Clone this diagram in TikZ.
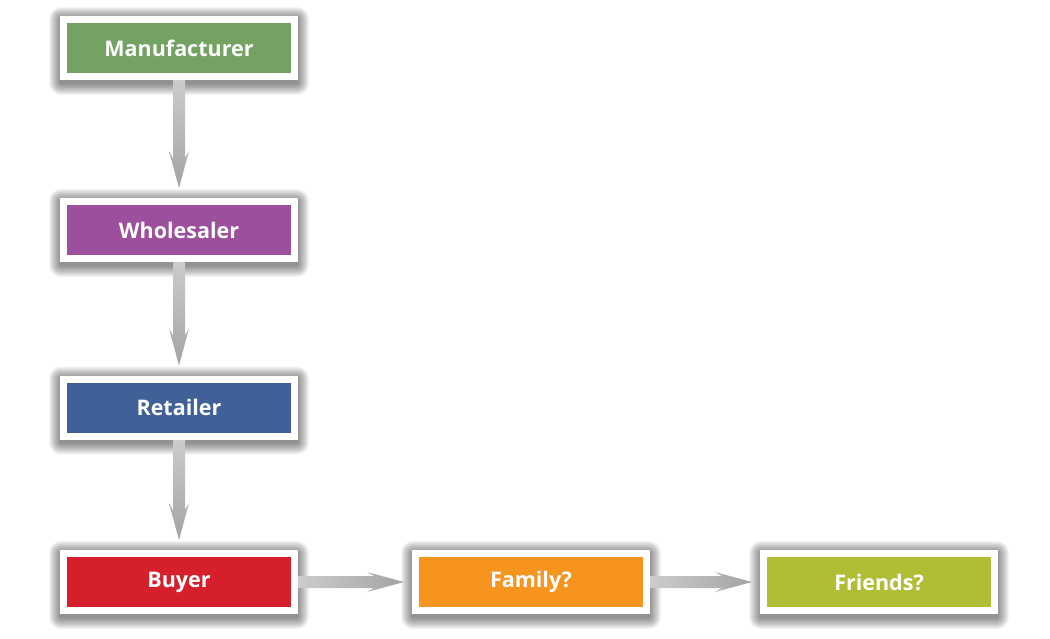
\documentclass[tikz,border=0pt]{standalone}
\usepackage{fontspec}
\setmainfont{Open Sans}
\usetikzlibrary{calc}
\pgfdeclarelayer{bg}
\pgfdeclarelayer{shadowlayer}
\pgfdeclarelayer{bgwhite}
\pgfsetlayers{bgwhite,shadowlayer,bg,main}
\definecolor{cmanu}{HTML}{73A263}
\definecolor{cwhole}{HTML}{9B4F9C}
\definecolor{cretail}{HTML}{3F6198}
\definecolor{cbuyer}{HTML}{D5202B}
\definecolor{cfamily}{HTML}{F7941E}
\definecolor{cfriends}{HTML}{B2BD36}
\tikzset{
  box/.style={draw=white, line width=7pt, minimum width=231pt, minimum height=57pt,
    inner sep=0pt, text=white, font=\bfseries\fontsize{21.5}{24}\selectfont},
  shadowstep/.style={fill=black, fill opacity=0.042},
  vshade/.style={top color=gray!40, bottom color=gray!72},
  hshade/.style={left color=gray!40, right color=gray!72},
}
\newcommand\myvarrow[2]{%
  \shade[vshade] ($(#1.south)+(-6,0)$) -- ($(#2.north)+(-6,-40)$) -- ($(#2.north)+(-10,-47)$)
    -- ($(#2.north)+(0,-10)$) -- ($(#2.north)+(10,-47)$) -- ($(#2.north)+(6,-40)$)
    -- ($(#1.south)+(6,0)$) -- cycle;}
\newcommand\myharrow[2]{%
  \shade[hshade] ($(#1.east)+(0,-6)$) -- ($(#2.west)+(-38,-6)$) -- ($(#2.west)+(-45,-10)$)
    -- ($(#2.west)+(-8,0)$) -- ($(#2.west)+(-45,10)$) -- ($(#2.west)+(-38,6)$)
    -- ($(#1.east)+(0,6)$) -- cycle;}
\begin{document}
\begin{tikzpicture}[x=1pt,y=-1pt]
\begin{pgfonlayer}{bgwhite}
\fill[white] (0,0) rectangle (1050,638);
\end{pgfonlayer}
\useasboundingbox (0,0) rectangle (1050,638);
\node[box, fill=cmanu] (manu) at (179,48) {Manufacturer};
\node[box, fill=cwhole] (whole) at (179,230) {Wholesaler};
\node[box, fill=cretail] (retail) at (179,407.5) {Retailer};
\node[box, fill=cbuyer] (buyer) at (179,582) {Buyer};
\node[box, fill=cfamily] (family) at (531,582) {Family?};
\node[box, fill=cfriends] (friends) at (879,582) {Friends?};
\begin{pgfonlayer}{shadowlayer}
\foreach \n in {manu,whole,retail,buyer,family,friends}{
  \foreach \i in {1,...,12}{
    \fill[shadowstep, rounded corners=\i pt] ($(\n.north west)+(-\i+1,-\i+3)$) rectangle ($(\n.south east)+(\i-1,\i+3)$);
  }
}
\end{pgfonlayer}
\begin{pgfonlayer}{bg}
\myvarrow{manu}{whole}
\myvarrow{whole}{retail}
\myvarrow{retail}{buyer}
\myharrow{buyer}{family}
\myharrow{family}{friends}
\end{pgfonlayer}
\end{tikzpicture}
\end{document}
